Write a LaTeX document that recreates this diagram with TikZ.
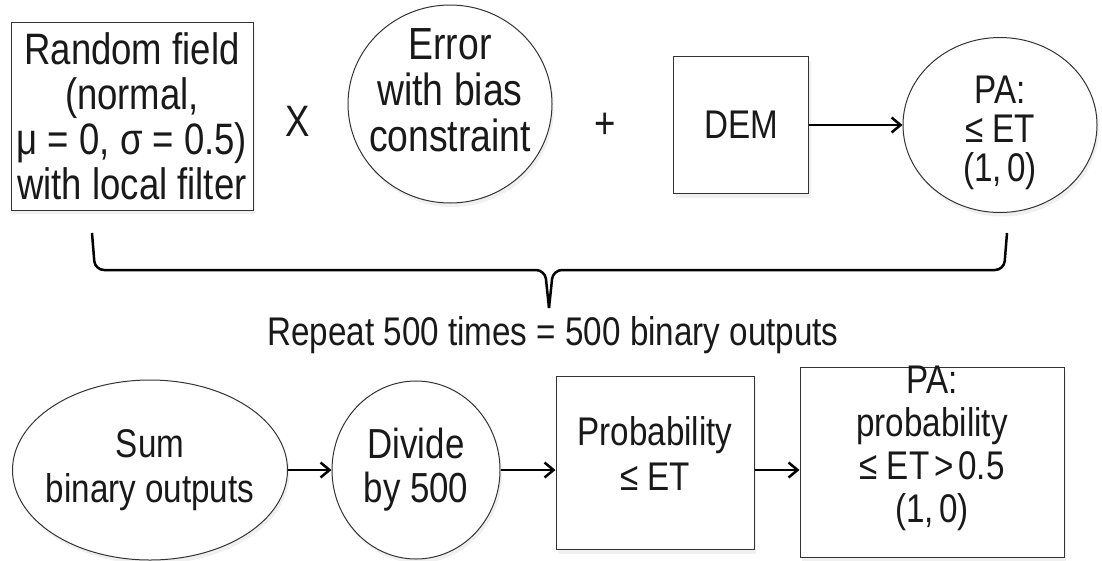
\documentclass[tikz,border=0pt]{standalone}
\usepackage{fontspec}
\setmainfont[FakeStretch=0.83]{Liberation Sans}
\usetikzlibrary{arrows.meta,shadows,shapes.geometric}

\tikzstyle{txt}    = [font=\fontsize{40}{45}\selectfont, text=black!90, align=center, inner sep=0pt]
\tikzstyle{bigtxt} = [font=\fontsize{44}{45}\selectfont, text=black!90, align=center, inner sep=0pt]
\tikzstyle{cbox}   = [draw=black!80, line width=1pt, fill=white, inner sep=0pt,
                      drop shadow={shadow xshift=2pt, shadow yshift=-4pt, opacity=0.12}]
\tikzstyle{cround} = [cbox, ellipse]
\tikzstyle{arr}    = [-{Straight Barb[length=9pt,width=15pt]}, line width=2.5pt]
\tikzstyle{brace}  = [line width=2.5pt, rounded corners=9pt]
\def\th{\hspace{0.12em}}

\begin{document}
\begin{tikzpicture}[x=1pt, y=-1pt]
  \useasboundingbox (0,0) rectangle (1102,560);

  % one run
  \node[cbox, minimum width=242pt, minimum height=188pt] (rf) at (132,116) {};
  \node[bigtxt] at (rf) {Random field\\(normal,\\μ = 0, σ = 0.5)\\with local filter};
  \node[bigtxt] (times) at (298,121) {X};
  \node[cround, minimum width=204pt, minimum height=198pt] (err) at (450,104) {};
  \node[bigtxt, font=\fontsize{45}{46}\selectfont] at ([yshift=14pt]err) {Error\\with bias\\constraint};
  \node[bigtxt] (plus) at (605,126) {+};
  \node[cbox, minimum width=135pt, minimum height=137pt, txt] (dem) at (741,125) {DEM};
  \node[cround, minimum width=194pt, minimum height=175pt] (pa) at (1000,125) {};
  \node[txt, font=\fontsize{40}{39}\selectfont] at ([yshift=-8pt]pa) {PA:\\≤ ET\\(1,\th0)};
  \draw[arr] (dem) -- (pa);

  % repeat
  \coordinate (bl) at (92,233);
  \coordinate (br) at (1007,233);
  \coordinate (tip) at (549,308);
  \draw[brace] (bl) -- (95,270) -- (545,270) -- (tip);
  \draw[brace] (br) -- (1004,270) -- (553,270) -- (tip);
  \node[txt, anchor=base] (rep) at (553,345) {Repeat 500 times = 500 binary outputs};

  % after 500 runs
  \node[cround, minimum width=275pt, minimum height=180pt] (sum) at (150,470) {};
  \node[txt] at (sum) {Sum\\binary outputs};
  \node[cround, minimum width=168pt, minimum height=178pt] (div) at (416,470) {};
  \node[txt, font=\fontsize{42}{44}\selectfont] at (div) {Divide\\by 500};
  \node[cbox, minimum width=198pt, minimum height=173pt] (prob) at (655,463) {};
  \node[txt] at ([yshift=10pt]prob) {Probability\\≤ ET};
  \node[cbox, minimum width=264pt, minimum height=190pt] (final) at (932,462) {};
  \node[txt, font=\fontsize{40}{43}\selectfont] at ([yshift=14pt]final) {PA:\\probability\\≤ ET\th>\th0.5\\(1,\th0)};
  \draw[arr] (sum) -- (div);
  \draw[arr] (div.east) -- (div.east -| prob.west);
  \draw[arr] (div.east -| prob.east) -- (div.east -| final.west);
\end{tikzpicture}
\end{document}
